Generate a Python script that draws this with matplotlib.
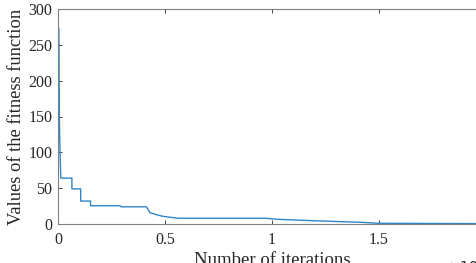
import matplotlib.pyplot as plt
from matplotlib.ticker import FuncFormatter

plt.rcParams['font.family'] = 'Liberation Serif'

# convergence curve (iterations, fitness value)
iterations = [40, 50, 60, 80, 130, 650, 650, 1060, 1060, 1520, 1520, 2900, 2950,
              4130, 4300, 4600, 4900, 5600, 9700, 10300, 12000, 14100, 15000, 20000]
fitness = [273, 230, 160, 120, 64, 64, 49, 49, 32, 32, 25.5, 25.5, 24,
           24, 15.8, 13, 10.7, 8, 8, 6.5, 4.5, 2.4, 1, 0.5]
xticks = [0, 5000, 10000, 15000, 20000]
yticks = [0, 50, 100, 150, 200, 250, 300]

fig = plt.figure(figsize=(4.76, 2.63), dpi=100)
ax = fig.add_axes([58/476, 39/263, 428/476, 215/263])
ax.plot(iterations, fitness, color='#2f86c8', lw=1)
ax.set_xlim(0, 20000)
ax.set_ylim(0, 300)
ax.set_xticks(xticks)
ax.set_yticks(yticks)
ax.xaxis.set_major_formatter(FuncFormatter(lambda v, p: '%g' % (v / 1e4)))
ax.tick_params(direction='in', length=3, width=0.6, colors='#262626',
               labelsize=11.5, top=True, right=True)
ax.tick_params(axis='x', pad=6)
ax.tick_params(axis='y', pad=4)
for s in ax.spines.values():
    s.set_color('#808080')
    s.set_linewidth(0.8)
ax.set_xlabel('Number of iterations', fontsize=13.5, color='#262626')
ax.set_ylabel('Values of the fitness function', fontsize=13.3, color='#262626')
ax.xaxis.set_label_coords(0.5, -0.13)
ax.yaxis.set_label_coords(-0.077, 0.5)
ax.text(0.911, -0.149, r'$\times10^4$', transform=ax.transAxes, fontsize=10,
        color='#262626', va='top', ha='left')
fig.savefig('out.png', dpi=100)
